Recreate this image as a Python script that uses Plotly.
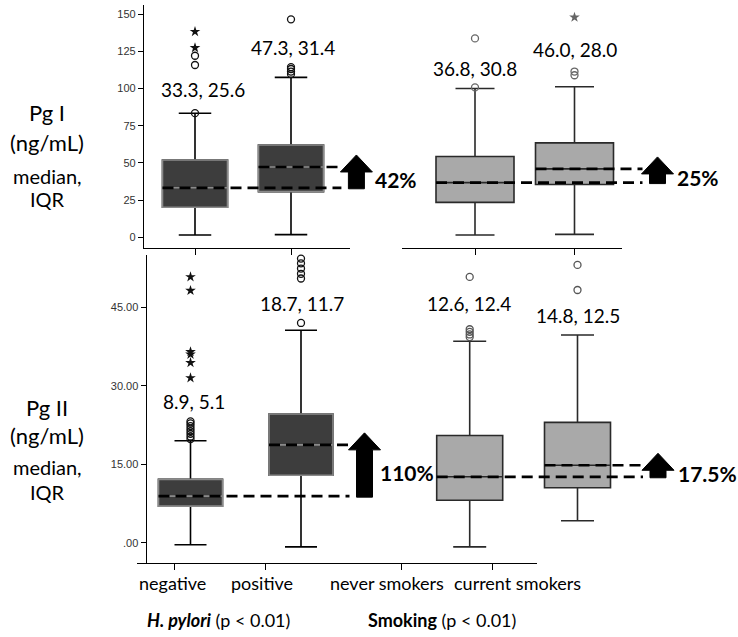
import plotly.graph_objects as go

W, H = 738, 637

# ---------------- data ----------------
hp_groups = ["negative", "positive"]
smk_groups = ["never smokers", "current smokers"]

# Pg I (ng/mL) by H. pylori status
pg1_hp_median = [33.3, 47.3]
pg1_hp_iqr = [25.6, 31.4]
pg1_hp_q1 = [20.2, 30.7]
pg1_hp_q3 = [52.0, 62.1]
pg1_hp_low = [1.5, 1.8]
pg1_hp_high = [83.4, 107.6]
pg1_hp_circles = [[83.5, 115.9, 122.1], [109.8, 111.5, 113.2, 114.5, 146.6]]
pg1_hp_stars = [[127.5, 138.3], []]

# Pg I (ng/mL) by smoking status
pg1_smk_median = [36.8, 46.0]
pg1_smk_iqr = [30.8, 28.0]
pg1_smk_q1 = [23.5, 35.5]
pg1_smk_q3 = [54.3, 63.5]
pg1_smk_low = [1.5, 2.0]
pg1_smk_high = [100.1, 101.3]
pg1_smk_circles = [[100.8, 133.8], [109.0, 111.5]]
pg1_smk_stars = [[], [148.0]]

# Pg II (ng/mL) by H. pylori status
pg2_hp_median = [8.9, 18.7]
pg2_hp_iqr = [5.1, 11.7]
pg2_hp_q1 = [7.0, 12.9]
pg2_hp_q3 = [12.1, 24.6]
pg2_hp_low = [-0.4, -0.8]
pg2_hp_high = [19.5, 40.6]
pg2_hp_circles = [[19.8, 20.3, 20.8, 21.3, 21.8, 22.3, 22.8, 23.2],
                  [42.0, 50.5, 51.4, 52.4, 53.4, 54.3]]
pg2_hp_stars = [[31.5, 34.4, 36.0, 36.5, 48.2, 50.8], []]

# Pg II (ng/mL) by smoking status
pg2_smk_median = [12.6, 14.8]
pg2_smk_iqr = [12.4, 12.5]
pg2_smk_q1 = [8.1, 10.5]
pg2_smk_q3 = [20.5, 23.0]
pg2_smk_low = [-0.8, 4.2]
pg2_smk_high = [38.5, 39.7]
pg2_smk_circles = [[39.3, 39.8, 40.3, 40.8, 50.8], [48.3, 53.1]]
pg2_smk_stars = [[], []]

increase_labels = ["42%", "25%", "110%", "17.5%"]

pg1_tickvals = [0, 25, 50, 75, 100, 125, 150]
pg1_ticktext = ["0", "25", "50", "75", "100", "125", "150"]
pg2_tickvals = [0, 15, 30, 45]
pg2_ticktext = [".00", "15.00", "30.00", "45.00"]

bottom_labels = hp_groups + smk_groups

# ---------------- styling / layout geometry (pixels) ----------------
FONT = "Lato"
DARK_FILL, DARK_EDGE = "#3d3d3d", "#8a8a8a"
LIGHT_FILL, LIGHT_EDGE = "#a9a9a9", "#2a2a2a"

panels = [
    dict(x="x", y="y", xdom=(144, 382), ydom=(5, 248), c0=195.0, ppx=96.0,
         y0=237.3, ppy=1.4867, box_px=65, arrow_px=356.4, pct_dx=17,
         label_y=[99.1, 127.5], label_dx=[8, 2], dark=True, show_y=True,
         median=pg1_hp_median, iqr=pg1_hp_iqr, q1=pg1_hp_q1, q3=pg1_hp_q3,
         low=pg1_hp_low, high=pg1_hp_high, circles=pg1_hp_circles,
         stars=pg1_hp_stars, ticks=(pg1_tickvals, pg1_ticktext),
         pct=increase_labels[0], out_color="#111"),
    dict(x="x2", y="y2", xdom=(400, 692), ydom=(5, 248), c0=475.0, ppx=99.5,
         y0=237.3, ppy=1.4867, box_px=78, arrow_px=657.5, pct_dx=17,
         label_y=[113.7, 126.0], label_dx=[0, 0], dark=False, show_y=False,
         median=pg1_smk_median, iqr=pg1_smk_iqr, q1=pg1_smk_q1, q3=pg1_smk_q3,
         low=pg1_smk_low, high=pg1_smk_high, circles=pg1_smk_circles,
         stars=pg1_smk_stars, ticks=None, pct=increase_labels[1],
         out_color="#666"),
    dict(x="x3", y="y3", xdom=(146.7, 386), ydom=(255, 563), c0=190.5, ppx=110.5,
         y0=542.7, ppy=5.232, box_px=64, arrow_px=364.5, pct_dx=13,
         label_y=[26.9, 45.8], label_dx=[3, 1], dark=True, show_y=True,
         median=pg2_hp_median, iqr=pg2_hp_iqr, q1=pg2_hp_q1, q3=pg2_hp_q3,
         low=pg2_hp_low, high=pg2_hp_high, circles=pg2_hp_circles,
         stars=pg2_hp_stars, ticks=(pg2_tickvals, pg2_ticktext),
         pct=increase_labels[2], out_color="#111"),
    dict(x="x4", y="y4", xdom=(420, 692), ydom=(255, 563), c0=469.7, ppx=107.8,
         y0=542.7, ppy=5.232, box_px=66, arrow_px=658.0, pct_dx=18,
         label_y=[45.8, 43.5], label_dx=[-1, 0], dark=False, show_y=False,
         median=pg2_smk_median, iqr=pg2_smk_iqr, q1=pg2_smk_q1, q3=pg2_smk_q3,
         low=pg2_smk_low, high=pg2_smk_high, circles=pg2_smk_circles,
         stars=pg2_smk_stars, ticks=None, pct=increase_labels[3],
         out_color="#555"),
]


def xdomain(a, b):
    return [a / W, b / W]


def ydomain(top, bottom):
    return [1 - bottom / H, 1 - top / H]


def axis_key(ref):
    return ref[0] + "axis" + ref[1:]


fig = go.Figure()
layout = dict(
    template="none",
    width=W, height=H, margin=dict(l=0, r=0, t=0, b=0, autoexpand=False),
    paper_bgcolor="white", plot_bgcolor="rgba(0,0,0,0)", showlegend=False,
    boxmode="overlay", font=dict(family=FONT, color="black"),
)
annotations = []

for p in panels:
    xr, yr = p["x"], p["y"]
    pos = [0, 1]
    bw = p["box_px"] / p["ppx"]

    # axis scales
    layout[axis_key(xr)] = dict(
        domain=xdomain(*p["xdom"]), anchor=yr, automargin=False,
        range=[(p["xdom"][0] - p["c0"]) / p["ppx"], (p["xdom"][1] - p["c0"]) / p["ppx"]],
        showline=False, showgrid=False, zeroline=False, ticks="", showticklabels=False,
    )
    yax = dict(
        domain=ydomain(*p["ydom"]), anchor=xr, automargin=False,
        range=[-(p["ydom"][1] - p["y0"]) / p["ppy"], (p["y0"] - p["ydom"][0]) / p["ppy"]],
        showgrid=False, zeroline=False,
    )
    if p["show_y"]:
        yax.update(showline=True, linecolor="black", linewidth=1.3, ticks="outside",
                   ticklen=5, tickwidth=1.2, tickcolor="black",
                   tickvals=p["ticks"][0], ticktext=p["ticks"][1],
                   tickfont=dict(family="Liberation Sans", size=11, color="#333"))
    else:
        yax.update(showline=False, ticks="", showticklabels=False)
    layout[axis_key(yr)] = yax

    # boxes: whiskers + outline
    fill = DARK_FILL if p["dark"] else LIGHT_FILL
    fig.add_trace(go.Box(
        x=pos, q1=p["q1"], median=p["median"], q3=p["q3"],
        lowerfence=p["low"], upperfence=p["high"], orientation="v",
        width=bw, whiskerwidth=0.5, fillcolor=fill, boxpoints=False,
        line=dict(color="black" if p["dark"] else LIGHT_EDGE, width=1.6),
        xaxis=xr, yaxis=yr, hoverinfo="skip",
    ))
    if p["dark"]:
        # lighter box edge and median on dark boxes
        fig.add_trace(go.Box(
            x=pos, q1=p["q1"], median=p["median"], q3=p["q3"],
            lowerfence=p["q1"], upperfence=p["q3"], orientation="v",
            width=bw, whiskerwidth=0, fillcolor=fill, boxpoints=False,
            line=dict(color=DARK_EDGE, width=1.6),
            xaxis=xr, yaxis=yr, hoverinfo="skip",
        ))

    # dashed median reference lines running to the arrow
    arrow_x = (p["arrow_px"] - p["c0"]) / p["ppx"]
    dash_end = arrow_x - 15 / p["ppx"]
    for i in pos:
        fig.add_trace(go.Scatter(
            x=[i - bw / 2, dash_end], y=[p["median"][i], p["median"][i]],
            mode="lines", line=dict(color="black", width=2.7, dash="11px,6px"),
            xaxis=xr, yaxis=yr, hoverinfo="skip",
        ))

    # block arrow from the lower median up past the upper median
    hw_head, hw_shaft = 16 / p["ppx"], 8 / p["ppx"]
    y_bot = p["median"][0] - 1 / p["ppy"]
    y_tip = p["median"][1] + 12 / p["ppy"]
    y_base = y_tip - 17 / p["ppy"]
    fig.add_trace(go.Scatter(
        x=[arrow_x - hw_shaft, arrow_x - hw_shaft, arrow_x - hw_head, arrow_x,
           arrow_x + hw_head, arrow_x + hw_shaft, arrow_x + hw_shaft, arrow_x - hw_shaft],
        y=[y_bot, y_base, y_base, y_tip, y_base, y_base, y_bot, y_bot],
        mode="lines", fill="toself", fillcolor="black",
        line=dict(color="black", width=1), xaxis=xr, yaxis=yr, hoverinfo="skip",
    ))

    # outliers
    cx, cy, sx, sy = [], [], [], []
    for i in pos:
        cx += [i] * len(p["circles"][i])
        cy += p["circles"][i]
        sx += [i] * len(p["stars"][i])
        sy += p["stars"][i]
    fig.add_trace(go.Scatter(
        x=cx, y=cy, mode="markers", cliponaxis=False,
        marker=dict(symbol="circle-open", size=7, color=p["out_color"],
                    line=dict(width=1.3, color=p["out_color"])),
        xaxis=xr, yaxis=yr, hoverinfo="skip",
    ))
    if sx:
        fig.add_trace(go.Scatter(
            x=sx, y=sy, mode="markers", cliponaxis=False,
            marker=dict(symbol="star", size=8, color=p["out_color"], line=dict(width=0)),
            xaxis=xr, yaxis=yr, hoverinfo="skip",
        ))

    # median, IQR labels
    for i in pos:
        annotations.append(dict(
            x=i, y=p["label_y"][i], xref=xr, yref=yr, showarrow=False,
            xanchor="center", yanchor="middle", xshift=p["label_dx"][i],
            text=f"{p['median'][i]:.1f}, {p['iqr'][i]:.1f}",
            font=dict(family=FONT, size=19, color="black"),
        ))

    # percentage increase
    annotations.append(dict(
        x=arrow_x, y=(p["median"][0] + p["median"][1]) / 2, xref=xr, yref=yr,
        xanchor="left", yanchor="middle", xshift=p["pct_dx"], yshift=-2, showarrow=False,
        text=f"<b>{p['pct']}</b>", font=dict(family=FONT, size=21, color="black"),
    ))

# visible category axes (lines + ticks) for the upper row and the shared bottom strip
axis_lines = [
    ("x5", "y", (144, 350), panels[0]),
    ("x6", "y2", (401.7, 621.7), panels[1]),
]
for xr, yr, (a, b), p in axis_lines:
    layout[axis_key(xr)] = dict(
        domain=xdomain(a, b), anchor=yr, automargin=False,
        range=[(a - p["c0"]) / p["ppx"], (b - p["c0"]) / p["ppx"]],
        showline=True, linecolor="black", linewidth=1.3, ticks="outside", ticklen=6,
        tickwidth=1.2, tickcolor="black", tickvals=[0, 1], showticklabels=False,
        showgrid=False, zeroline=False,
    )
    fig.add_trace(go.Scatter(x=[None], y=[None], xaxis=xr, yaxis=yr, hoverinfo="skip"))

strip_pos = [0, 1, 2.5, 3.5]
strip_c0, strip_ppx, strip_dom = 174.0, 91.0, (137, 537)
layout["xaxis7"] = dict(
    domain=xdomain(*strip_dom), anchor="y3", automargin=False,
    range=[(strip_dom[0] - strip_c0) / strip_ppx, (strip_dom[1] - strip_c0) / strip_ppx],
    showline=True, linecolor="black", linewidth=1.3, ticks="outside", ticklen=6,
    tickwidth=1.2, tickcolor="black", tickvals=strip_pos, showticklabels=False,
    showgrid=False, zeroline=False,
)
fig.add_trace(go.Scatter(x=[None], y=[None], xaxis="x7", yaxis="y3", hoverinfo="skip"))

# category names under the bottom strip
for text, px in zip(bottom_labels, [172, 262, 387, 517]):
    annotations.append(dict(
        x=px / W, y=1 - 583 / H, xref="paper", yref="paper", showarrow=False,
        xanchor="center", yanchor="middle", text=text,
        font=dict(family=FONT, size=18, color="black"),
    ))

# row titles
row_titles = [
    ("Pg I", 113, 22), ("(ng/mL)", 142, 22), ("median,", 176, 20), ("IQR", 199, 20),
    ("Pg II", 407, 22), ("(ng/mL)", 435, 22), ("median,", 467, 20), ("IQR", 492, 20),
]
for text, py, size in row_titles:
    annotations.append(dict(
        x=47 / W, y=1 - py / H, xref="paper", yref="paper", showarrow=False,
        xanchor="center", yanchor="middle",
        text=text, font=dict(family=FONT, size=size, color="black"),
    ))

# group titles
for text, px in [("<b><i>H. pylori</i></b> (p &lt; 0.01)", 218),
                 ("<b>Smoking</b> (p &lt; 0.01)", 442)]:
    annotations.append(dict(
        x=px / W, y=1 - 620 / H, xref="paper", yref="paper", showarrow=False,
        xanchor="center", yanchor="middle",
        text=text, font=dict(family=FONT, size=18, color="black"),
    ))

layout["annotations"] = annotations
fig.update_layout(**layout)
fig.write_html("out.html")
